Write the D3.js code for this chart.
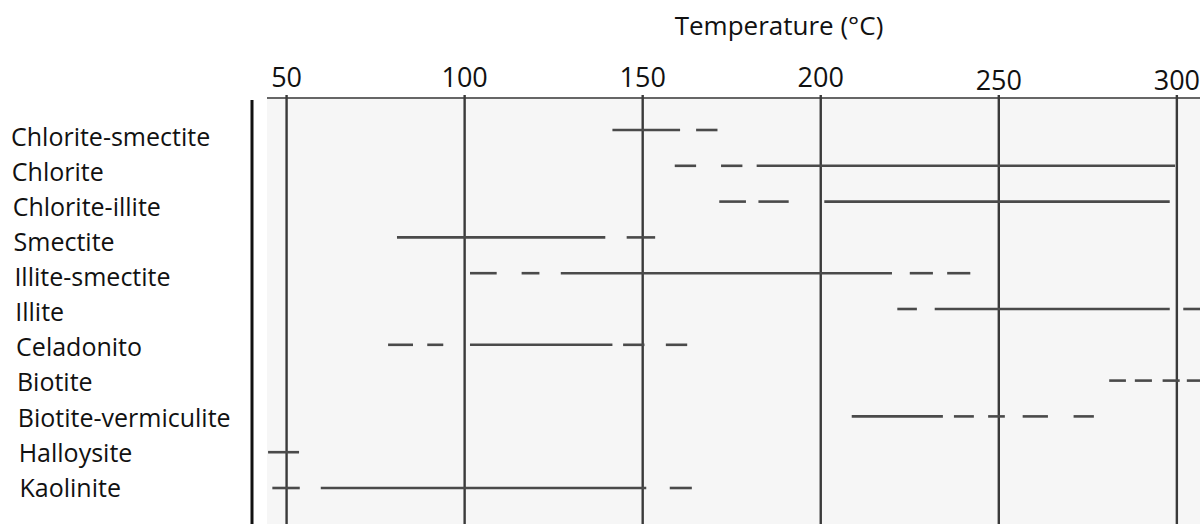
<!DOCTYPE html>
<html>
<head>
<meta charset="utf-8">
<script src="https://cdn.jsdelivr.net/npm/d3@7"></script>
<style>
  html, body { margin: 0; padding: 0; background: #fff; }
  svg { display: block; }
  text { font-family: "Open Sans", sans-serif; fill: #111; }
</style>
</head>
<body>
<svg id="chart" width="1200" height="524"></svg>
<script>
// ---- data ----
const minerals = ["Chlorite-smectite", "Chlorite", "Chlorite-illite", "Smectite",
  "Illite-smectite", "Illite", "Celadonito", "Biotite", "Biotite-vermiculite",
  "Halloysite", "Kaolinite"];
const tickValues = [50, 100, 150, 200, 250, 300];
const axisTitle = "Temperature (°C)";

// each mineral: list of [start °C, end °C] pieces (solid runs and dashes)
const chloriteSmectite   = [[141.5, 160.5], [165, 171]];
const chlorite           = [[159, 165], [172, 178], [182, 299.5]];
const chloriteIllite     = [[171.5, 179], [182.5, 191], [201, 298]];
const smectite           = [[81, 139.5], [145.5, 153.5]];
const illiteSmectite     = [[101.5, 109], [116, 121], [127, 220], [225, 231.5], [235.5, 242]];
const illite             = [[221.5, 227], [232, 298], [301.8, 307]];
const celadonito         = [[78.5, 85.5], [89.5, 94], [101.5, 141.5], [144.5, 150.5], [156.5, 162.5]];
const biotite            = [[281, 285.7], [288.2, 293], [296, 300.8], [302.8, 307]];
const biotiteVermiculite = [[208.7, 234.3], [237.4, 243], [247, 251.7], [256.7, 263.8], [271, 276.7]];
const halloysite         = [[44.8, 53.5]];
const kaolinite          = [[46, 53.7], [59.6, 151], [157.6, 163.8]];

const ranges = [chloriteSmectite, chlorite, chloriteIllite, smectite, illiteSmectite,
  illite, celadonito, biotite, biotiteVermiculite, halloysite, kaolinite];

// ---- drawing ----
const W = 1200, H = 524;
const plotLeft = 267, plotTop = 98;
const svg = d3.select("#chart");

const x = d3.scaleLinear().domain([44.5, 306.5]).range([plotLeft, W]);
const yLine = d3.scalePoint().domain(minerals).range([130, 488]);
const yLabel = d3.scalePoint().domain(minerals).range([137, 488]);

// plot background
svg.append("rect")
  .attr("x", plotLeft).attr("y", plotTop)
  .attr("width", W - plotLeft).attr("height", H - plotTop)
  .attr("fill", "#f6f6f6");

// left black bar
svg.append("line")
  .attr("x1", 252).attr("x2", 252).attr("y1", 100).attr("y2", H)
  .attr("stroke", "#111").attr("stroke-width", 3);

// top axis line
svg.append("line")
  .attr("x1", plotLeft).attr("x2", W).attr("y1", plotTop).attr("y2", plotTop)
  .attr("stroke", "#666").attr("stroke-width", 2.2);

// vertical grid lines
svg.append("g").selectAll("line").data(tickValues).join("line")
  .attr("x1", d => x(d)).attr("x2", d => x(d))
  .attr("y1", plotTop - 3).attr("y2", H)
  .attr("stroke", "#3a3a3a").attr("stroke-width", 2.4);

// tick labels
svg.append("g").selectAll("text").data(tickValues).join("text")
  .attr("x", d => x(d)).attr("y", (d, i) => i < 4 ? 87 : 90)
  .attr("text-anchor", "middle")
  .attr("font-size", 27)
  .text(d => d);

// axis title
svg.append("text")
  .attr("x", 779).attr("y", 35)
  .attr("text-anchor", "middle")
  .attr("font-size", 26)
  .text(axisTitle);

// category labels
svg.append("g").selectAll("text").data(minerals).join("text")
  .attr("x", (d, i) => 11 + i * 0.85)
  .attr("y", d => yLabel(d))
  .attr("dy", "0.35em")
  .attr("font-size", 25)
  .text(d => d);

// range segments
const segData = [];
minerals.forEach((m, i) => ranges[i].forEach(r => segData.push({ m, a: r[0], b: r[1] })));
svg.append("g").selectAll("line").data(segData).join("line")
  .attr("x1", d => x(d.a)).attr("x2", d => x(d.b))
  .attr("y1", d => yLine(d.m)).attr("y2", d => yLine(d.m))
  .attr("stroke", "#4a4a4a").attr("stroke-width", 2.6);
</script>
</body>
</html>
